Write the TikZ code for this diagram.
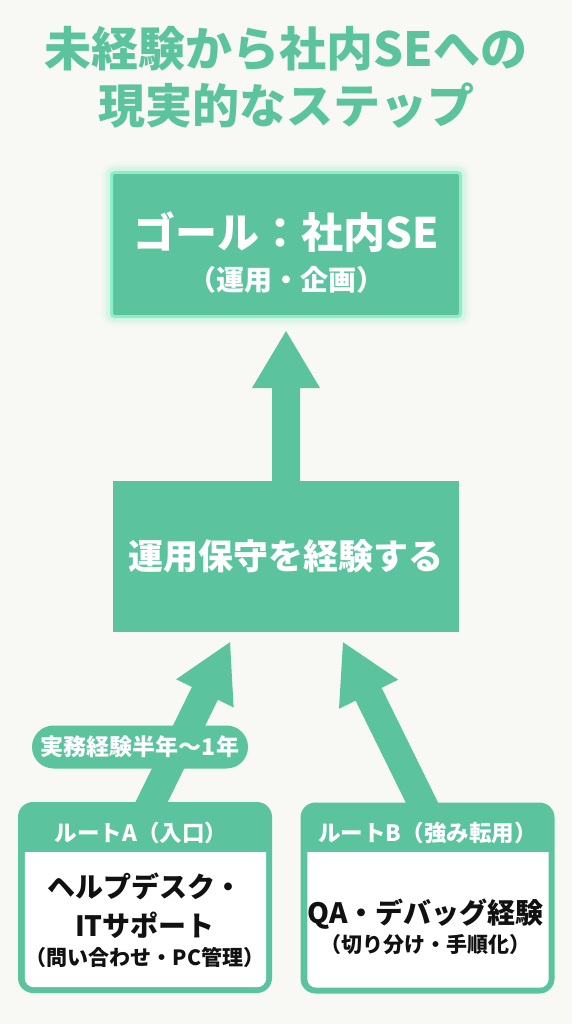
\documentclass[tikz,border=0pt]{standalone}
\usepackage{fontspec}
\setmainfont{Noto Sans CJK JP}
\usetikzlibrary{calc}
\definecolor{bg}{HTML}{F8F8F4}
\definecolor{grn}{HTML}{5BC49E}
\definecolor{glowc}{HTML}{8DEFC8}
\definecolor{ink}{HTML}{111111}
\newcommand{\fsz}[1]{\fontsize{#1}{#1}\selectfont\bfseries}
% #1 start, #2 tip, #3 half shaft, #4 half head, #5 head length
\newcommand{\blockarrow}[5]{%
  \path ($(#2)!#5!(#1)$) coordinate (bah);
  \fill[grn] ($(#1)!#3!90:(#2)$) -- ($(bah)!#3!90:(#2)$) -- ($(bah)!#4!90:(#2)$) -- (#2)
    -- ($(bah)!#4!-90:(#2)$) -- ($(bah)!#3!-90:(#2)$) -- ($(#1)!#3!-90:(#2)$) -- cycle;}
\tikzset{
  titletext/.style={text=grn, font=\fsz{47}, inner sep=0pt},
  goalbox/.style={fill=grn, draw=glowc, line width=3pt, minimum width=349pt, minimum height=144pt, inner sep=0pt, rounded corners=3pt},
  wtext/.style={text=white, inner sep=0pt},
  midbox/.style={fill=grn, minimum width=346pt, minimum height=151pt, inner sep=0pt, text=white, font=\fsz{35}},
  pill/.style={fill=grn, minimum width=216pt, minimum height=43pt, rounded corners=21.5pt, inner sep=0pt, text=white, font=\fsz{23}},
  routebox/.style={fill=grn, minimum width=254pt, minimum height=191pt, rounded corners=15pt, inner sep=0pt},
  headtext/.style={text=white, font=\fsz{22.5}, inner sep=0pt},
  bigtext/.style={text=ink, font=\fsz{28}, inner sep=0pt},
  smalltext/.style={text=ink, font=\fsz{21}, inner sep=0pt},
}
\begin{document}
\begin{tikzpicture}[x=1pt,y=-1pt]
\useasboundingbox[fill=bg] (0,0) rectangle (572,1024);

% title
\node[titletext] (t1) at (286,49) {未経験から社内SEへの};
\node[titletext] (t2) at (286,106) {現実的なステップ};

% goal glow
\foreach \w/\o in {18/0.05,13/0.09,8/0.16}{%
  \draw[glowc, line width=\w pt, opacity=\o, rounded corners=5pt] (110,171) rectangle (462,318);}
\node[goalbox] (goal) at (286,244.5) {};
\node[wtext, font=\fsz{42}] (goalT) at ($(goal.center)+(0,-12)$) {ゴール：社内SE};
\node[wtext, font=\fsz{28}] (goalS) at ($(goal.center)+(0,35)$) {（運用・企画）};

% middle box and its arrow
\node[midbox] (mid) at (286,556.5) {};
\coordinate (a1s) at ($(mid.north)+(0,2)$);
\coordinate (a1t) at ($(goal.south)+(0,13)$);
\blockarrow{a1s}{a1t}{14pt}{34pt}{57pt}
\node[midbox] (midf) at (mid.center) {運用保守を経験する};

% route boxes (positions)
\path (145,897.5) coordinate (cA) (427.5,898) coordinate (cB);
\coordinate (aAs) at ($(cA)+(-1,-80)$);
\coordinate (aBs) at ($(cB)+(2,-80)$);
\coordinate (aAt) at ($(mid.south)+(-56,10)$);
\coordinate (aBt) at ($(mid.south)+(57,10)$);
\blockarrow{aAs}{aAt}{14.5pt}{32pt}{57pt}
\blockarrow{aBs}{aBt}{14.5pt}{33pt}{58pt}

% label pill
\node[pill] (lbl) at (140,747) {実務経験半年〜1年};

% route A
\node[routebox] (boxA) at (cA) {};
\fill[white, rounded corners=9pt] ($(boxA.north west)+(7,40)$) rectangle ($(boxA.south east)+(-6,-6)$);
\fill[grn] ($(boxA.north west)+(6,30)$) rectangle ($(boxA.north east)+(-5,50)$);
\node[headtext] (hA) at ($(boxA.north)+(-4,31)$) {ルートA（入口）};
\node[bigtext] (bA1) at ($(boxA.north)+(0,85)$) {ヘルプデスク・};
\node[bigtext] (bA2) at ($(boxA.north)+(0,123)$) {ITサポート};
\node[smalltext] (bA3) at ($(boxA.north)+(0,156)$) {（問い合わせ・PC管理）};

% route B
\node[routebox] (boxB) at (cB) {};
\fill[white, rounded corners=9pt] ($(boxB.north west)+(7,40)$) rectangle ($(boxB.south east)+(-6,-6)$);
\fill[grn] ($(boxB.north west)+(6,30)$) rectangle ($(boxB.north east)+(-5,50)$);
\node[headtext] (hB) at ($(boxB.north)+(0,31)$) {ルートB（強み転用）};
\node[bigtext] (bB1) at ($(boxB.north)+(-2,112)$) {QA・デバッグ経験};
\node[smalltext] (bB2) at ($(boxB.north)+(-2,142)$) {（切り分け・手順化）};
\end{tikzpicture}
\end{document}
